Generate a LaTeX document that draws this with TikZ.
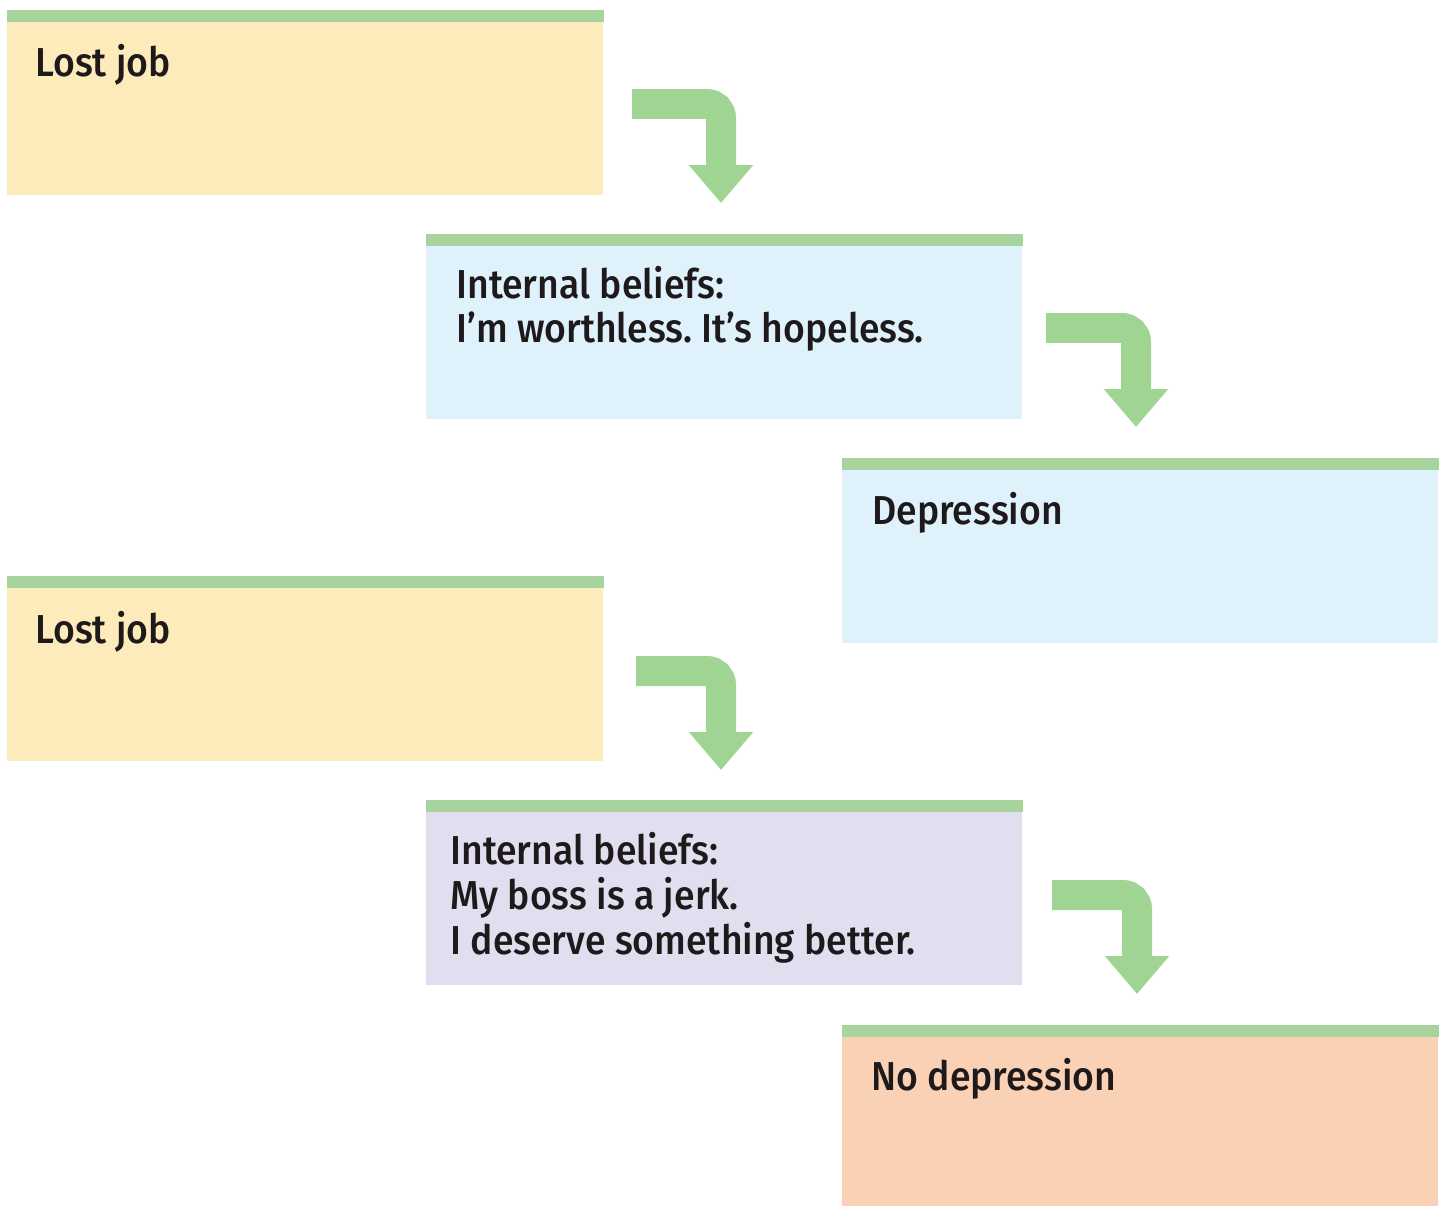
\documentclass[tikz,border=0pt]{standalone}
\usepackage{fontspec}
\newfontfamily\boxfont{Fira Sans Medium}[FakeStretch=0.925]
\usetikzlibrary{arrows.meta}
\frenchspacing

\definecolor{bargreen}{RGB}{166,212,156}
\definecolor{arrowgreen}{RGB}{160,212,146}
\definecolor{eventyellow}{RGB}{254,235,187}
\definecolor{beliefblue}{RGB}{223,241,251}
\definecolor{beliefviolet}{RGB}{225,223,239}
\definecolor{outcomepeach}{RGB}{251,209,182}
\definecolor{inkdark}{RGB}{30,26,28}

\newcommand{\boxlines}[1]{\begin{tabular}[t]{@{}l@{}}#1\end{tabular}}

\begin{document}
\begin{tikzpicture}[
    x=0.02cm, y=-0.02cm,
    panel/.style={rectangle, anchor=north west, inner sep=0pt, minimum width=11.92cm, minimum height=3.7cm},
    topbar/.style={fill=bargreen},
    txt/.style={anchor=base west, inner sep=0pt, text=inkdark, font=\boxfont\fontsize{23}{25}\selectfont},
    bentarrow/.style={draw=arrowgreen, line width=0.6cm, rounded corners=0.28cm, -{Triangle[length=0.76cm, width=1.24cm]}}
  ]
  \useasboundingbox (0,0) rectangle (1441,1206);

  % first chain
  \node[panel, fill=eventyellow] (lost1) at (7,10) {};
  \node[panel, fill=beliefblue] (bel1) at (426,234) {};
  \node[panel, fill=beliefblue] (dep) at (842,458) {};

  % second chain
  \node[panel, fill=eventyellow] (lost2) at (7,576) {};
  \node[panel, fill=beliefviolet] (bel2) at (426,800) {};
  \node[panel, fill=outcomepeach] (nodep) at (842,1025) {};

  \foreach \n in {lost1,bel1,dep,lost2,bel2,nodep}
    \fill[topbar] (\n.north west) rectangle ([yshift=-0.24cm]\n.north east);

  \node[txt] (lost1txt) at (35,77) {Lost job};
  \node[txt] (bel1txt) at (456,299) {\boxlines{Internal beliefs:\\I’m worthless. It’s hopeless.}};
  \node[txt] (deptxt) at (872,524) {Depression};
  \node[txt] (lost2txt) at (35,643) {Lost job};
  \node[txt] (bel2txt) at (450,864) {\boxlines{Internal beliefs:\\My boss is a jerk.\\I deserve something better.}};
  \node[txt] (nodeptxt) at (871,1090) {No depression};

  % bent arrows
  \coordinate (a1) at (632,104);  \coordinate (t1) at (721,203);
  \coordinate (a2) at (1046,328); \coordinate (t2) at (1136,427);
  \coordinate (a3) at (636,671);  \coordinate (t3) at (721,770);
  \coordinate (a4) at (1052,895); \coordinate (t4) at (1137,994);
  \draw[bentarrow] (a1) -| (t1);
  \draw[bentarrow] (a2) -| (t2);
  \draw[bentarrow] (a3) -| (t3);
  \draw[bentarrow] (a4) -| (t4);
\end{tikzpicture}
\end{document}
